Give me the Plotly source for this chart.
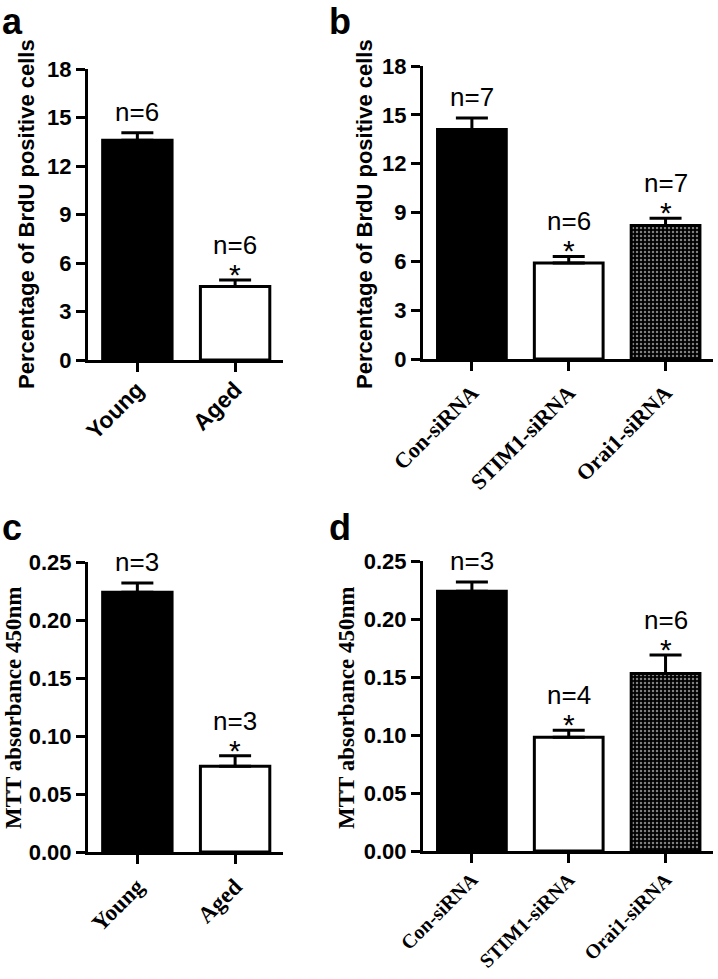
import plotly.graph_objects as go

# ---- data ----
a_cats = ["Young", "Aged"]
a_vals = [13.6, 4.55]
a_err = [0.45, 0.4]
a_n = ["n=6", "n=6"]
a_star = [False, True]

b_cats = ["Con-siRNA", "STIM1-siRNA", "Orai1-siRNA"]
b_vals = [14.1, 5.9, 8.2]
b_err = [0.7, 0.4, 0.45]
b_n = ["n=7", "n=6", "n=7"]
b_star = [False, True, True]

c_cats = ["Young", "Aged"]
c_vals = [0.224, 0.074]
c_err = [0.008, 0.009]
c_n = ["n=3", "n=3"]
c_star = [False, True]

d_cats = ["Con-siRNA", "STIM1-siRNA", "Orai1-siRNA"]
d_vals = [0.224, 0.098, 0.153]
d_err = [0.008, 0.006, 0.016]
d_n = ["n=3", "n=4", "n=6"]
d_star = [False, True, True]

brdu_ticks = [0, 3, 6, 9, 12, 15, 18]
mtt_ticks = [0.0, 0.05, 0.10, 0.15, 0.20, 0.25]

W, H = 718, 979
SANS = "Liberation Sans"
SERIF = "Liberation Serif"

fig = go.Figure()

panels = [
    # suffix, cats, vals, err, n, star, x px, y px (bottom, top), yrange, ticks, fmt, xfont, xfont size, label standoff
    ("", a_cats, a_vals, a_err, a_n, a_star, (88, 283), (360, 69), [0, 18], brdu_ticks, "d", SANS, 23, -5),
    ("2", b_cats, b_vals, b_err, b_n, b_star, (423, 713), (359, 66), [0, 18], brdu_ticks, "d", SERIF, 22, 0),
    ("3", c_cats, c_vals, c_err, c_n, c_star, (88, 283), (852, 562), [0, 0.25], mtt_ticks, ".2f", SERIF, 23, 0),
    ("4", d_cats, d_vals, d_err, d_n, d_star, (423, 713), (851, 561), [0, 0.25], mtt_ticks, ".2f", SERIF, 20, -3),
]

fills = ["black", "white", "black"]
shapes_pat = ["", "", "."]

annotations = []
for suf, cats, vals, err, ns, stars, xd, yd, yr, ticks, fmt, xfont, xfs, stand in panels:
    k = len(cats)
    fig.add_trace(go.Bar(
        x=cats, y=vals,
        xaxis="x" + suf, yaxis="y" + suf,
        width=0.71,
        marker=dict(
            color=fills[:k],
            line=dict(color="black", width=3),
            pattern=dict(shape=shapes_pat[:k], fgcolor="white",
                         size=4, solidity=0.3, fillmode="overlay"),
        ),
        error_y=dict(type="data", symmetric=False, array=err, arrayminus=[0] * k,
                     color="black", thickness=3, width=16),
        showlegend=False,
        hoverinfo="skip",
    ))
    xkey = "xaxis" + suf
    ykey = "yaxis" + suf
    fig.layout[xkey] = dict(
        domain=[xd[0] / W, xd[1] / W], anchor="y" + suf,
        range=[-0.505, k - 1 + 0.49], type="category", automargin=False,
        showline=True, linewidth=3, linecolor="black",
        ticks="outside", ticklen=9, tickwidth=3, tickcolor="black",
        tickangle=-45, showgrid=False, zeroline=False, ticklabelstandoff=stand,
        tickfont=dict(family=xfont, size=xfs, color="black", weight="bold"),
    )
    fig.layout[ykey] = dict(
        domain=[1 - yd[0] / H, 1 - yd[1] / H], anchor="x" + suf,
        range=yr, tickvals=ticks, tickformat=fmt, automargin=False,
        showline=True, linewidth=3, linecolor="black",
        ticks="outside", ticklen=9, tickwidth=3, tickcolor="black",
        showgrid=False, zeroline=False,
        tickfont=dict(family=SANS, size=22, color="black", weight="bold"),
    )
    for i in range(k):
        top = vals[i] + err[i]
        if stars[i]:
            annotations.append(dict(x=cats[i], y=top, xref="x" + suf, yref="y" + suf,
                                    text="*", showarrow=False, yanchor="bottom", yshift=-13,
                                    font=dict(family=SANS, size=30, color="black")))
            annotations.append(dict(x=cats[i], y=top, xref="x" + suf, yref="y" + suf,
                                    text=ns[i], showarrow=False, yanchor="bottom", yshift=18,
                                    font=dict(family=SANS, size=26, color="black")))
        else:
            annotations.append(dict(x=cats[i], y=top, xref="x" + suf, yref="y" + suf,
                                    text=ns[i], showarrow=False, yanchor="bottom", yshift=4,
                                    font=dict(family=SANS, size=26, color="black")))

# panel letters (top-anchored so the boxes stay inside the page)
for letter, px, py, anc in [("a", 12, 0, "top"), ("b", 340, 0, "top"), ("c", 12, 527, "middle"), ("d", 340, 527, "middle")]:
    annotations.append(dict(x=px / W, y=1 - py / H, xref="paper", yref="paper", text=letter,
                            showarrow=False, xanchor="center", yanchor=anc, borderpad=0,
                            font=dict(family=SANS, size=36, color="black", weight="bold")))

# axis titles
brdu_title = "Percentage of BrdU positive cells"
mtt_title = "MTT absorbance 450nm"
for txt, px, py, fam, sz in [(brdu_title, 26, 214, SANS, 22), (brdu_title, 364, 214, SANS, 22),
                             (mtt_title, 13, 708, SERIF, 23), (mtt_title, 346, 708, SERIF, 23)]:
    annotations.append(dict(x=px / W, y=1 - py / H, xref="paper", yref="paper", text=txt,
                            textangle=-90, showarrow=False, xanchor="center", yanchor="middle",
                            font=dict(family=fam, size=sz, color="black", weight="bold")))

fig.update_layout(
    width=W, height=H,
    margin=dict(l=0, r=0, t=0, b=0, autoexpand=False),
    paper_bgcolor="white", plot_bgcolor="white",
    annotations=annotations,
)

fig.write_html("out.html", config={"displayModeBar": False},
               post_script="document.body.style.margin='0';document.body.style.overflow='hidden';")
